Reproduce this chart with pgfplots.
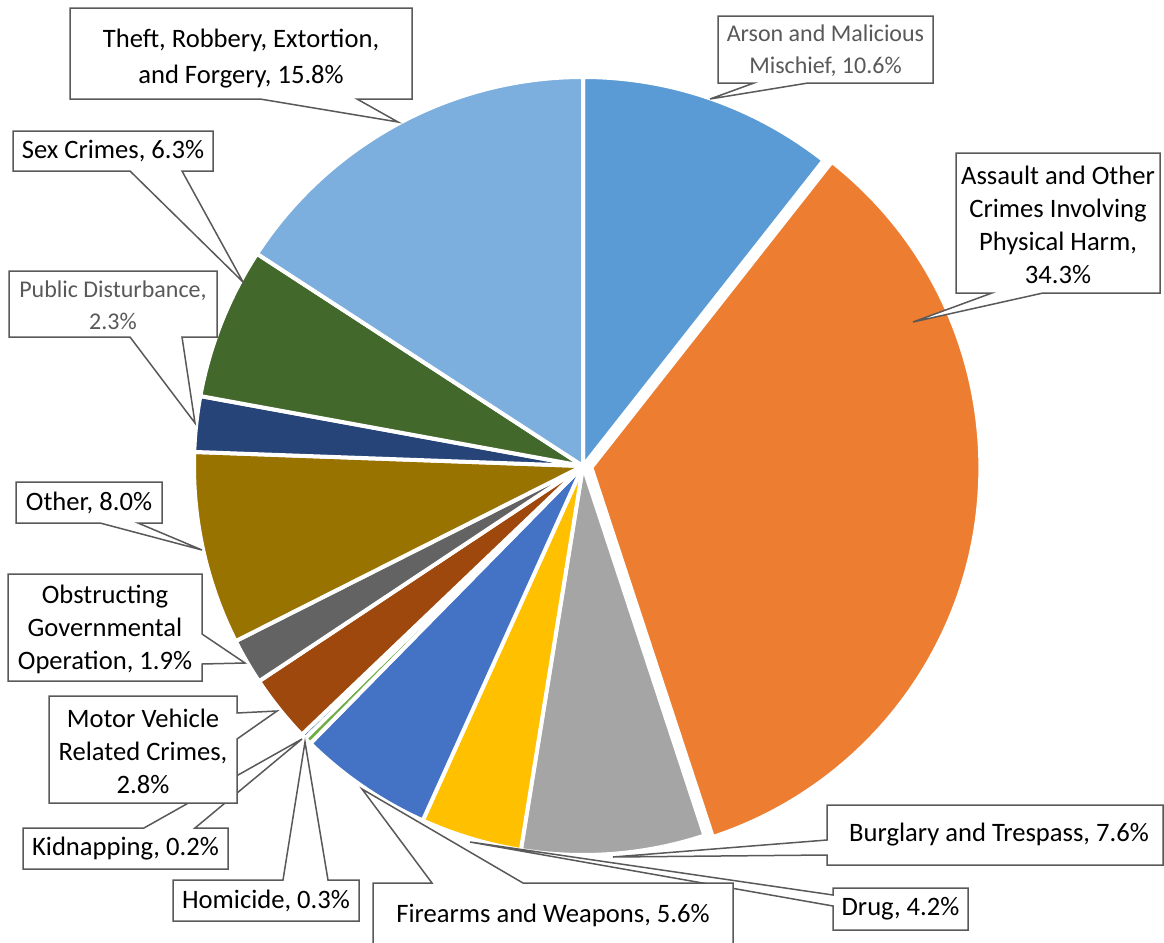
\documentclass[border=0pt]{standalone}
\usepackage{pgfplots}
\pgfplotsset{compat=1.18}
\usepackage{pgfplotstable}
\usepackage{fontspec}
\setmainfont{Carlito}

\definecolor{cArson}{HTML}{5B9BD5}
\definecolor{cAssault}{HTML}{ED7D31}
\definecolor{cBurglary}{HTML}{A5A5A5}
\definecolor{cDrug}{HTML}{FFC000}
\definecolor{cFirearms}{HTML}{4472C4}
\definecolor{cHomicide}{HTML}{70AD47}
\definecolor{cKidnap}{HTML}{255E91}
\definecolor{cMotor}{HTML}{9E480E}
\definecolor{cObstruct}{HTML}{636363}
\definecolor{cOther}{HTML}{997300}
\definecolor{cPublic}{HTML}{264478}
\definecolor{cSex}{HTML}{43682B}
\definecolor{cTheft}{HTML}{7CAFDD}
\definecolor{boxgray}{HTML}{595959}
\definecolor{lblgray}{HTML}{595959}

\pgfplotstableread[col sep=comma]{
name,pct,expl,col
Arson and Malicious Mischief,10.6,0,cArson
Assault and Other Crimes Involving Physical Harm,34.3,8.5,cAssault
Burglary and Trespass,7.6,0,cBurglary
Drug,4.2,0,cDrug
Firearms and Weapons,5.6,0,cFirearms
Homicide,0.3,0,cHomicide
Kidnapping,0.2,0,cKidnap
Motor Vehicle Related Crimes,2.8,0,cMotor
Obstructing Governmental Operation,1.9,0,cObstruct
Other,8.0,0,cOther
Public Disturbance,2.3,0,cPublic
Sex Crimes,6.3,0,cSex
Theft Robbery Extortion and Forgery,15.8,0,cTheft
}\piedata

% total of all shares
\pgfplotstablegetrowsof{\piedata}
\pgfmathtruncatemacro{\lastrow}{\pgfplotsretval-1}
\gdef\cumv{0}
\foreach \i in {0,...,\lastrow}{%
  \pgfplotstablegetelem{\i}{pct}\of{\piedata}%
  \pgfmathsetmacro{\newc}{\cumv+\pgfplotsretval}%
  \global\let\cumv\newc
}
\global\let\totalv\cumv
% start/end angles of every slice (clockwise from 12 o'clock)
\gdef\cumv{0}
\foreach \i in {0,...,\lastrow}{%
  \pgfplotstablegetelem{\i}{pct}\of{\piedata}\pgfmathsetmacro{\pv}{\pgfplotsretval}%
  \pgfplotstablegetelem{\i}{expl}\of{\piedata}\pgfmathsetmacro{\ev}{\pgfplotsretval*0.5}%
  \pgfplotstablegetelem{\i}{col}\of{\piedata}\edef\colv{\pgfplotsretval}%
  \pgfmathsetmacro{\aA}{90-360*(\cumv/\totalv)}%
  \pgfmathsetmacro{\newc}{\cumv+\pv}%
  \pgfmathsetmacro{\aB}{90-360*(\newc/\totalv)}%
  \pgfmathsetmacro{\aM}{(\aA+\aB)/2}%
  \expandafter\xdef\csname sliceA\i\endcsname{\aA}%
  \expandafter\xdef\csname sliceB\i\endcsname{\aB}%
  \expandafter\xdef\csname sliceM\i\endcsname{\aM}%
  \expandafter\xdef\csname sliceE\i\endcsname{\ev}%
  \expandafter\xdef\csname sliceC\i\endcsname{\colv}%
  \global\let\cumv\newc
}

\newcommand\lblfont{\fontsize{13.3pt}{16.5pt}\selectfont}
\newcommand\widefont{\fontsize{13.3pt}{18pt}\selectfont}
\newcommand\grayfont{\fontsize{12pt}{16pt}\selectfont}
\tikzset{cbox/.style={draw=boxgray, fill=white, line width=0.75pt, line join=miter},
         ctext/.style={font=\lblfont, align=center, inner sep=0pt, text=black},
         gtext/.style={font=\grayfont, align=center, inner sep=0pt, text=lblgray}}

\begin{document}
\begin{tikzpicture}
\useasboundingbox (0,0) rectangle (582pt,471.5pt);
\begin{axis}[at={(0,0)}, anchor=south west, scale only axis,
  width=582pt, height=471.5pt,
  xmin=0, xmax=1164, ymin=0, ymax=943, y dir=reverse,
  hide axis, clip=false]
\pgfplotsinvokeforeach{0,...,12}{%
  \filldraw[fill=\csname sliceC#1\endcsname, draw=white, line width=2pt, line join=round]
    (axis cs:583,466) ++(canvas polar cs:angle=\csname sliceM#1\endcsname,radius=\csname sliceE#1\endcsname pt)
    -- ++(canvas polar cs:angle=\csname sliceA#1\endcsname,radius=194.5pt)
    arc[start angle=\csname sliceA#1\endcsname, end angle=\csname sliceB#1\endcsname, radius=194.5pt] -- cycle;
}

% callouts (pixel coordinates)
% Arson
\draw[cbox] (axis cs:718,16) -- (axis cs:933,16) -- (axis cs:933,83) -- (axis cs:808,83) -- (axis cs:710,99) -- (axis cs:754,83) -- (axis cs:718,83) -- cycle;
\node[gtext] at (axis cs:825.5,50.5) {Arson and Malicious\\Mischief, 10.6\%};
% Assault
\draw[cbox] (axis cs:956,153) -- (axis cs:1160,153) -- (axis cs:1160,293) -- (axis cs:1043,293) -- (axis cs:913,322) -- (axis cs:992,293) -- (axis cs:956,293) -- cycle;
\node[ctext] at (axis cs:1058,225) {Assault and Other\\Crimes Involving\\Physical Harm,\\34.3\%};
% Burglary
\draw[cbox] (axis cs:827,805) -- (axis cs:1163,805) -- (axis cs:1163,865) -- (axis cs:827,865) -- (axis cs:827,855) -- (axis cs:613,857) -- (axis cs:827,840) -- cycle;
\node[ctext] at (axis cs:999,835) {Burglary and Trespass, 7.6\%};
% Drug
\draw[cbox] (axis cs:833,888) -- (axis cs:968,888) -- (axis cs:968,930) -- (axis cs:833,930) -- (axis cs:833,906) -- (axis cs:470,842) -- (axis cs:833,895) -- cycle;
\node[ctext] at (axis cs:900.5,909) {Drug, 4.2\%};
% Firearms
\draw[cbox] (axis cs:373,883) -- (axis cs:432,883) -- (axis cs:362,789) -- (axis cs:523,883) -- (axis cs:733,883) -- (axis cs:733,955) -- (axis cs:373,955) -- cycle;
\node[ctext] at (axis cs:553,915) {Firearms and Weapons, 5.6\%};
% Homicide
\draw[cbox] (axis cs:173,880) -- (axis cs:283,880) -- (axis cs:305,742) -- (axis cs:328,880) -- (axis cs:359,880) -- (axis cs:359,921) -- (axis cs:173,921) -- cycle;
\node[ctext] at (axis cs:266,900.5) {Homicide, 0.3\%};
% Kidnapping
\draw[cbox] (axis cs:23,828) -- (axis cs:144,828) -- (axis cs:302,739) -- (axis cs:195,828) -- (axis cs:228,828) -- (axis cs:228,869) -- (axis cs:23,869) -- cycle;
\node[ctext] at (axis cs:125.5,848.5) {Kidnapping, 0.2\%};
% Motor Vehicle
\draw[cbox] (axis cs:49,696) -- (axis cs:237,696) -- (axis cs:237,713) -- (axis cs:277,711) -- (axis cs:237,739) -- (axis cs:237,803) -- (axis cs:49,803) -- cycle;
\node[ctext] at (axis cs:143,751) {Motor Vehicle\\Related Crimes,\\2.8\%};
% Obstructing
\draw[cbox] (axis cs:8,574) -- (axis cs:202,574) -- (axis cs:202,634) -- (axis cs:245,663) -- (axis cs:202,664) -- (axis cs:202,681) -- (axis cs:8,681) -- cycle;
\node[ctext] at (axis cs:105,629.5) {Obstructing\\Governmental\\Operation, 1.9\%};
% Other
\draw[cbox] (axis cs:16,482) -- (axis cs:162,482) -- (axis cs:162,523) -- (axis cs:138,523) -- (axis cs:202,550) -- (axis cs:100,523) -- (axis cs:16,523) -- cycle;
\node[ctext] at (axis cs:89,502.5) {Other, 8.0\%};
% Public Disturbance
\draw[cbox] (axis cs:9,271) -- (axis cs:217,271) -- (axis cs:217,337) -- (axis cs:182,337) -- (axis cs:195,423) -- (axis cs:130,337) -- (axis cs:9,337) -- cycle;
\node[gtext] at (axis cs:113,305) {Public Disturbance,\\2.3\%};
% Sex Crimes
\draw[cbox] (axis cs:13,131) -- (axis cs:213,131) -- (axis cs:213,171) -- (axis cs:182,171) -- (axis cs:243,282) -- (axis cs:130,171) -- (axis cs:13,171) -- cycle;
\node[ctext] at (axis cs:113,151) {Sex Crimes, 6.3\%};
% Theft
\draw[cbox] (axis cs:70,8) -- (axis cs:412,8) -- (axis cs:412,99) -- (axis cs:357,99) -- (axis cs:398,122) -- (axis cs:260,99) -- (axis cs:70,99) -- cycle;
\node[ctext, font=\widefont] at (axis cs:241,59) {Theft, Robbery, Extortion,\\and Forgery, 15.8\%};
\end{axis}
\end{tikzpicture}
\end{document}
